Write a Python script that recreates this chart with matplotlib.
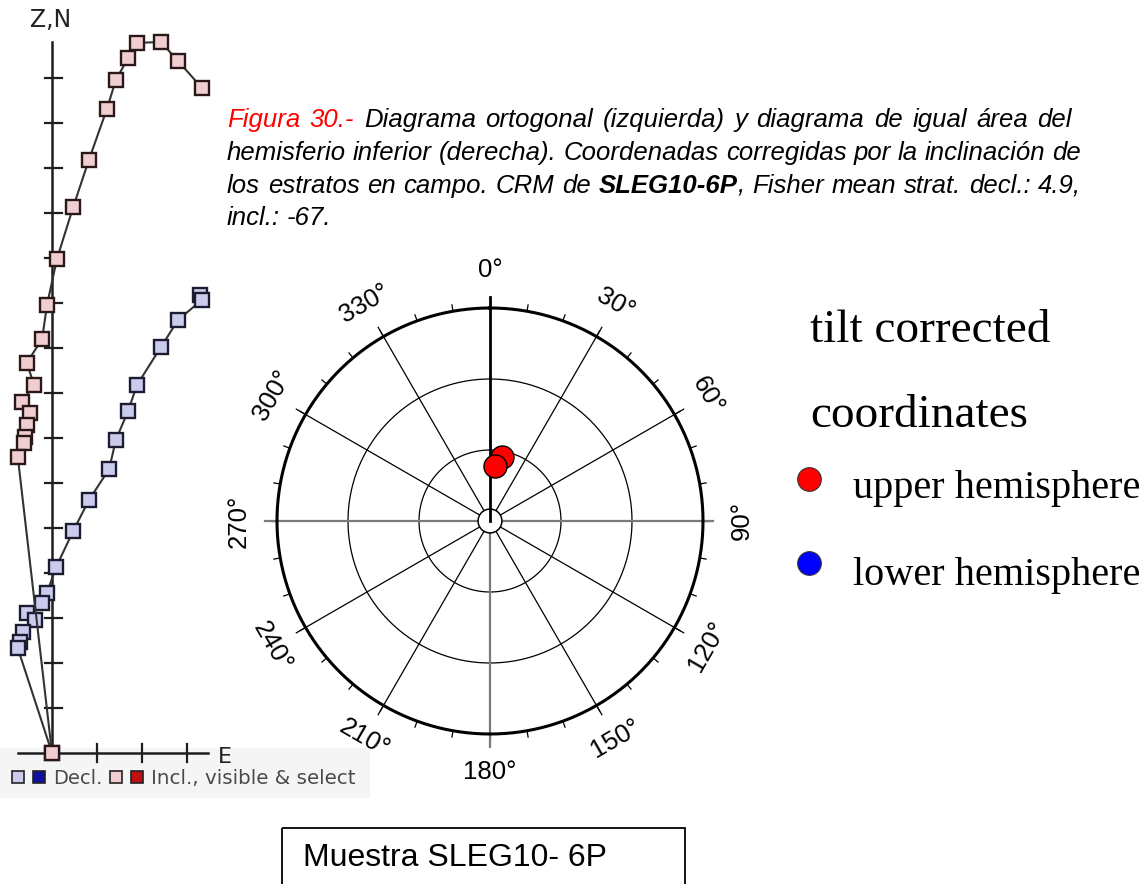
import numpy as np
import matplotlib
matplotlib.use("Agg")
import matplotlib.pyplot as plt
from matplotlib.patches import Rectangle, Circle

plt.rcParams['font.family'] = ['Liberation Sans', 'DejaVu Sans']

W, H = 1143, 884

# orthogonal diagram (one tick = one unit)
incl_e = [3.33, 2.80, 2.42, 1.89, 1.69, 1.42, 1.22, 0.82, 0.47, 0.11, -0.11,
          -0.22, -0.56, -0.40, -0.67, -0.49, -0.56, -0.60, -0.62, -0.76, 0.0]
incl_z = [14.78, 15.38, 15.80, 15.78, 15.44, 14.96, 14.31, 13.18, 12.13, 10.98, 9.96,
          9.20, 8.67, 8.18, 7.80, 7.56, 7.29, 7.02, 6.89, 6.58, 0.0]
decl_e = [3.29, 3.33, 2.80, 2.42, 1.89, 1.69, 1.42, 1.27, 0.82, 0.47, 0.09,
          -0.11, -0.22, -0.56, -0.38, -0.64, -0.71, -0.76, 0.0]
decl_n = [10.18, 10.07, 9.62, 9.02, 8.18, 7.60, 6.96, 6.31, 5.62, 4.93, 4.13,
          3.56, 3.33, 3.11, 2.96, 2.69, 2.47, 2.33, 0.0]
zn_ticks = list(range(1, 16))
e_ticks = [1, 2, 3]

# equal-area stereonet
site_dec = [10.6, 5.3]
site_inc = [-65.0, -69.0]
az_labels = list(range(0, 360, 30))
grid_r = [1 / 3, 2 / 3]

legend_labels = ['upper hemisphere', 'lower hemisphere']
legend_colors = ['#ff0000', '#0000ff']

fig = plt.figure(figsize=(W / 100, H / 100), dpi=100)

# page layer in pixel units for captions and boxes
page = fig.add_axes([0, 0, 1, 1], zorder=0)
page.set_xlim(0, W)
page.set_ylim(H, 0)
page.axis('off')
page.add_patch(Rectangle((0, 748), 370, 50, color='#f5f5f5', lw=0))

# ---- orthogonal (Zijderveld) diagram ----
ax_z = fig.add_axes([0, 1 - 800 / H, 240 / W, 800 / H], zorder=1)
ax_z.patch.set_alpha(0)
ax_z.set_xlim(-52 / 45, 188 / 45)
ax_z.set_ylim(-47 / 45, 753 / 45)
ax_z.axis('off')
axc = '#1e1e1e'
ax_z.plot([0, 0], [0, 15.8], color=axc, lw=1.8)
ax_z.plot([-0.76, 3.47], [0, 0], color=axc, lw=1.8)
for k in zn_ticks:
    ax_z.plot([-0.16, 0.22], [k, k], color=axc, lw=1.6)
for k in e_ticks:
    ax_z.plot([k, k], [-0.2, 0.2], color=axc, lw=1.6)

ax_z.plot(decl_e, decl_n, '-', color='#333333', lw=1.5)
ax_z.plot(decl_e, decl_n, 's', ms=9.8, mfc='#cbcbee', mec='#1c1c30', mew=1.7)
ax_z.plot(incl_e, incl_z, '-', color='#333333', lw=1.5)
ax_z.plot(incl_e, incl_z, 's', ms=9.8, mfc='#efcdd1', mec='#2a1818', mew=1.7)
ax_z.text(-0.04, 16.3, 'Z,N', family='DejaVu Sans', fontsize=17, color='#222222',
          ha='center', va='center')
ax_z.text(3.84, -0.09, 'E', family='DejaVu Sans', fontsize=16, color='#222222',
          ha='center', va='center')

# legend strip of the orthogonal diagram
for x, fc in [(18, '#cbcbee'), (39, '#1010a0'), (116, '#efcdd1'), (137, '#c01010')]:
    page.add_patch(Rectangle((x - 6, 771), 12, 12, fc=fc, ec='#222222', lw=1.2, zorder=2))
page.text(53, 778, 'Decl.', family='DejaVu Sans', fontsize=14, color='#4a4a4a',
          va='center', zorder=2)
page.text(151, 778, 'Incl., visible & select', family='DejaVu Sans', fontsize=14.3,
          color='#4a4a4a', va='center', zorder=2)

# ---- equal-area net ----
ax_s = fig.add_axes([220 / W, 1 - 791 / H, 540 / W, 540 / H], zorder=1)
ax_s.patch.set_alpha(0)
lim = 270 / 213
ax_s.set_xlim(-lim, lim)
ax_s.set_ylim(-lim, lim)
ax_s.set_aspect('equal')
ax_s.axis('off')

t = np.linspace(0, 2 * np.pi, 721)
for r in grid_r:
    ax_s.plot(r * np.sin(t), r * np.cos(t), color='k', lw=0.9)
for az in az_labels:
    if az % 90:
        a = np.radians(az)
        ax_s.plot([0, 1.05 * np.sin(a)], [0, 1.05 * np.cos(a)], color='k', lw=0.9)
for az in range(0, 360, 10):
    a = np.radians(az)
    ax_s.plot([np.sin(a), 1.03 * np.sin(a)], [np.cos(a), 1.03 * np.cos(a)], color='k', lw=0.9)
ax_s.plot([-1.056, 1.047], [0, 0], color='#7a7a7a', lw=1.6)
ax_s.plot([0, 0], [-1.06, 0], color='#7a7a7a', lw=1.6)
ax_s.add_patch(Circle((0, 0), 0.056, fc='white', ec='k', lw=1.1, zorder=3))
ax_s.plot([0, 0], [0, 1.05], color='k', lw=2, zorder=4)
ax_s.plot(np.sin(t), np.cos(t), color='k', lw=2.2)

for az in az_labels:
    a = np.radians(az)
    rot = 90 - ((az + 90) % 180)
    ax_s.text(1.18 * np.sin(a), 1.18 * np.cos(a), f'{az}°', fontsize=18.5,
              rotation=rot, rotation_mode='anchor', ha='center', va='center')

dec = np.radians(site_dec)
r_ea = np.sqrt(2) * np.sin(np.radians(90 - np.abs(site_inc)) / 2)
ax_s.scatter(r_ea * np.sin(dec), r_ea * np.cos(dec), s=275, c='#ff0000',
             edgecolors='k', linewidths=1.0, zorder=5)

# hemisphere legend
page.text(810, 342, 'tilt corrected', family='Liberation Serif', fontsize=34, va='baseline')
page.text(810, 427, 'coordinates', family='Liberation Serif', fontsize=34, va='baseline')
for (y_mark, y_txt), lab, col in zip([(479, 498), (563, 585)], legend_labels, legend_colors):
    page.scatter([809], [y_mark], s=290, c=col, edgecolors='#333333', linewidths=0.8)
    page.text(853, y_txt, lab, family='Liberation Serif', fontsize=29, va='baseline')

# figure caption, each line spread between x0 and its right edge
fs = 18.5
x0 = 227
space = 0.278 * fs * 100 / 72
renderer = fig.canvas.get_renderer()
red = dict(color='#ff0000')
bold = dict(weight='bold')


def caption_line(y, tokens, x_end=None):
    # tokens: (word, style, joined to previous word)
    arts = []
    for word, kw, joined in tokens:
        txt = page.text(0, y, word, fontsize=fs, style='italic', va='baseline', **kw)
        arts.append((txt, txt.get_window_extent(renderer=renderer).width, joined))
    n_gaps = sum(1 for _, _, j in arts[1:] if not j)
    natural = sum(w for _, w, _ in arts)
    gap = (x_end - x0 - natural) / n_gaps if (x_end and n_gaps) else space
    x = x0
    for i, (txt, w, joined) in enumerate(arts):
        if i and not joined:
            x += gap
        txt.set_x(x)
        x += w


def words(s, kw=None):
    return [(w, kw or {}, False) for w in s.split()]


caption_line(127, words('Figura 30.-', red)
             + words('Diagrama ortogonal (izquierda) y diagrama de igual área del'), 1072)
caption_line(160, words('hemisferio inferior (derecha). Coordenadas corregidas por la inclinación de'), 1081)
caption_line(193, words('los estratos en campo. CRM de') + words('SLEG10-6P', bold)
             + [(',', {}, True)] + words('Fisher mean strat. decl.: 4.9,'), 1081)
caption_line(225, words('incl.: -67.'))

# sample box
page.add_patch(Rectangle((282, 828), 403, 70, fill=False, ec='k', lw=1.3))
page.text(303, 866, 'Muestra SLEG10- 6P', fontsize=23, va='baseline')

fig.savefig('out.png', dpi=100)
